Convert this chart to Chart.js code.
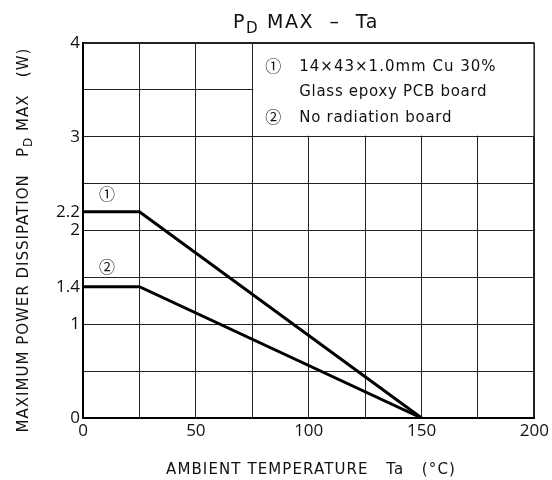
<!DOCTYPE html>
<html>
<head>
<meta charset="utf-8">
<script src="https://cdn.jsdelivr.net/npm/chart.js@4"></script>
<style>
  body { margin: 0; background: #fff; }
  canvas { display: block; }
</style>
</head>
<body>
<canvas id="chart" width="552" height="480"></canvas>
<script>
// data
const temps = [0, 25, 150];
const pcbBoard = [2.2, 2.2, 0];     // (1) glass epoxy PCB board
const noBoard = [1.4, 1.4, 0];      // (2) no radiation board
const xTickLabels = [0, 50, 100, 150, 200];
const yTickLabels = [0, 1, 1.4, 2, 2.2, 3, 4];
const yGrid = [0, 0.5, 1, 1.5, 2, 2.5, 3, 3.5, 4];
const legendLines = ['14\u00d743\u00d71.0mm Cu 30%', 'Glass epoxy PCB board', 'No radiation board'];

const FONT = '"DejaVu Sans", "Noto Sans CJK JP", sans-serif';
const CIRCLEFONT = '"Noto Sans CJK JP", sans-serif';
const TICKFONT = '"Open Sans", sans-serif';
const INK = '#111';

// pieces of text with a subscript D, centred on x
function drawSubText(ctx, parts, size, x, y, spacing) {
	ctx.letterSpacing = (spacing || 0) + 'px';
	let w = 0;
	parts.forEach(p => {
		ctx.font = (p.sub ? size * 0.8 : size) + 'px ' + FONT;
		p.w = ctx.measureText(p.t).width;
		w += p.w;
	});
	let cx = x - w / 2;
	parts.forEach(p => {
		ctx.font = (p.sub ? size * 0.8 : size) + 'px ' + FONT;
		ctx.fillText(p.t, cx, y + (p.sub ? size * 0.25 : 0));
		cx += p.w;
	});
	ctx.letterSpacing = '0px';
}

const overlay = {
	id: 'overlay',
	beforeDatasetsDraw(chart) {
		const { ctx, scales: { x, y } } = chart;
		const l = x.getPixelForValue(75), r = x.getPixelForValue(200);
		const t = y.getPixelForValue(4), b = y.getPixelForValue(3);
		ctx.save();
		ctx.fillStyle = '#fff';
		ctx.fillRect(l + 1, t + 1, r - l - 2, b - t - 2);
		ctx.restore();
	},
	afterDraw(chart) {
		const { ctx, scales: { x, y } } = chart;
		ctx.save();
		ctx.fillStyle = INK;
		ctx.textBaseline = 'alphabetic';
		ctx.textAlign = 'left';

		// title
		drawSubText(ctx, [{ t: 'P' }, { t: 'D', sub: true }, { t: ' MAX  \u2013  Ta' }], 19, 306, 28, 1.6);

		// x axis title
		drawSubText(ctx, [{ t: 'AMBIENT TEMPERATURE   Ta   (\u00b0C)' }], 15, 311, 474, 1.1);

		// y axis title (rotated)
		ctx.save();
		ctx.translate(28, 240);
		ctx.rotate(-Math.PI / 2);
		drawSubText(ctx, [{ t: 'MAXIMUM POWER DISSIPATION   P' }, { t: 'D', sub: true }, { t: ' MAX   (W)' }], 15, 0, 0, 1.0);
		ctx.restore();

		// curve markers
		ctx.font = '16px ' + CIRCLEFONT;
		ctx.textAlign = 'center';
		ctx.textBaseline = 'middle';
		ctx.fillText('\u2460', x.getPixelForValue(10.6), y.getPixelForValue(2.39));
		ctx.fillText('\u2461', x.getPixelForValue(10.6), y.getPixelForValue(1.61));

		// legend text in the box
		const lx = x.getPixelForValue(75);
		const ty = y.getPixelForValue(4);
		ctx.fillText('\u2460', lx + 21, ty + 23);
		ctx.fillText('\u2461', lx + 21, ty + 74);
		ctx.textBaseline = 'alphabetic';
		ctx.textAlign = 'left';
		ctx.font = '15px ' + FONT;
		ctx.letterSpacing = '1.0px';
		ctx.fillText(legendLines[0], lx + 47, ty + 28);
		ctx.letterSpacing = '0.7px';
		ctx.fillText(legendLines[1], lx + 47, ty + 53);
		ctx.fillText(legendLines[2], lx + 47, ty + 79);
		ctx.letterSpacing = '0px';
		ctx.restore();
	}
};

new Chart(document.getElementById('chart'), {
	type: 'line',
	data: {
		datasets: [{
			data: temps.map((t, i) => ({ x: t, y: pcbBoard[i] })),
			borderColor: '#000',
			borderWidth: 3,
			pointRadius: 0,
			tension: 0
		}, {
			data: temps.map((t, i) => ({ x: t, y: noBoard[i] })),
			borderColor: '#000',
			borderWidth: 3,
			pointRadius: 0,
			tension: 0
		}]
	},
	options: {
		responsive: false,
		animation: false,
		layout: { padding: { top: 43, right: 16, left: 0, bottom: 0 } },
		plugins: { legend: { display: false }, tooltip: { enabled: false } },
		scales: {
			x: {
				type: 'linear',
				min: 0,
				max: 200,
				afterFit(scale) { scale.height = 62; },
				ticks: {
					stepSize: 25,
					autoSkip: false,
					maxRotation: 0,
					padding: 3,
					color: INK,
					font: { family: TICKFONT, size: 17 },
					callback: v => xTickLabels.includes(v) ? String(v) : ''
				},
				grid: {
					drawTicks: false,
					color: '#222',
					lineWidth: c => c.tick && c.tick.value === 200 ? 2 : 1
				},
				border: { color: '#000', width: 2 }
			},
			y: {
				type: 'linear',
				min: 0,
				max: 4,
				afterFit(scale) { scale.width = 83; },
				afterBuildTicks(scale) {
					const vals = [...new Set(yGrid.concat(yTickLabels))].sort((a, b) => a - b);
					scale.ticks = vals.map(v => ({ value: v }));
				},
				ticks: {
					autoSkip: false,
					padding: 3,
					color: INK,
					font: { family: TICKFONT, size: 17 },
					callback: v => yTickLabels.includes(v) ? String(v) : ''
				},
				grid: {
					drawTicks: false,
					color: c => c.tick && yGrid.includes(c.tick.value) ? '#222' : 'rgba(0,0,0,0)',
					lineWidth: c => c.tick && c.tick.value === 4 ? 2 : 1
				},
				border: { color: '#000', width: 2 }
			}
		}
	},
	plugins: [overlay]
});
</script>
</body>
</html>
